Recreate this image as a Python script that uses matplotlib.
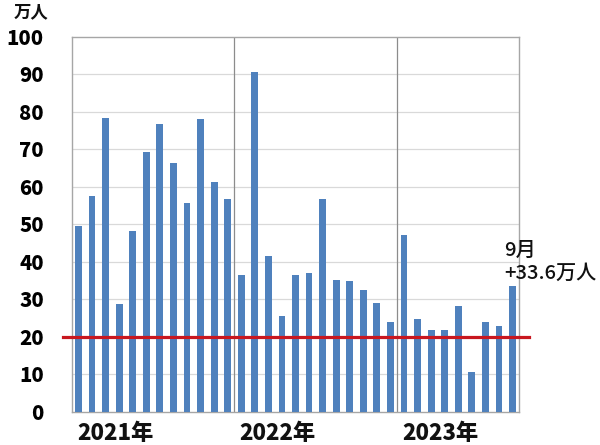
import matplotlib
matplotlib.use("Agg")
import matplotlib.pyplot as plt
import matplotlib.transforms as mtransforms

plt.rcParams['font.family'] = ['Noto Sans CJK JP', 'DejaVu Sans']

years = ["2021年", "2022年", "2023年"]
months_per_year = [12, 12, 9]
values = [
    49.4, 57.6, 78.3, 28.7, 48.2, 69.3, 76.8, 66.3, 55.6, 78.0, 61.3, 56.8,
    36.5, 90.6, 41.5, 25.5, 36.4, 36.9, 56.8, 35.1, 34.9, 32.5, 28.9, 24.0,
    47.2, 24.7, 21.8, 21.8, 28.2, 10.6, 23.8, 22.8, 33.6,
]
yticks = [0, 10, 20, 30, 40, 50, 60, 70, 80, 90, 100]
threshold = 20
unit_label = "万人"
note = "9月\n+33.6万人"

fig = plt.figure(figsize=(6.0, 4.45), dpi=100)
ax = fig.add_axes([0.1195, 0.0749, 0.746, 0.8426])

x = list(range(len(values)))
ax.bar(x, values, width=0.5, color="#4F81BD", zorder=3)

ax.set_xlim(-0.5, len(values) - 0.5)
ax.set_ylim(0, 100)
ax.set_yticks(yticks)
ax.set_yticklabels([str(v) for v in yticks], fontsize=14.5, fontweight="heavy")
ax.tick_params(axis="y", length=0, pad=20)
ax.set_xticks([])

for v in yticks[1:-1]:
    ax.axhline(v, color="#d9d9d9", lw=0.9, zorder=1)

for s in ax.spines.values():
    s.set_color("#a6a6a6")
    s.set_linewidth(1.0)

# year separators and labels
start = 0
trans = mtransforms.blended_transform_factory(ax.transData, ax.transAxes)
for i, (yr, n) in enumerate(zip(years, months_per_year)):
    if i > 0:
        ax.axvline(start - 0.5, color="#8c8c8c", lw=0.9, zorder=2)
    ax.text(start - 0.12, -0.028, yr, transform=trans, ha="left", va="top",
            fontsize=16, fontweight="heavy", color="#111111")
    start += n

# threshold line
ax.axhline(threshold, xmin=-0.02, xmax=1.022, color="#c8171f", lw=2.3,
           zorder=4, clip_on=False)

# unit label
fig.text(0.022, 0.993, unit_label, ha="left", va="top", fontsize=12.5,
         fontweight="bold", color="#111111")

# annotation for last bar
ax.annotate(note, xy=(len(values) - 1, values[-1]), xytext=(-6, 2),
            textcoords="offset points", ha="left", va="bottom",
            fontsize=14.5, fontweight="medium", color="#111111",
            linespacing=1.3, annotation_clip=False)

fig.savefig("out.png", dpi=100)
